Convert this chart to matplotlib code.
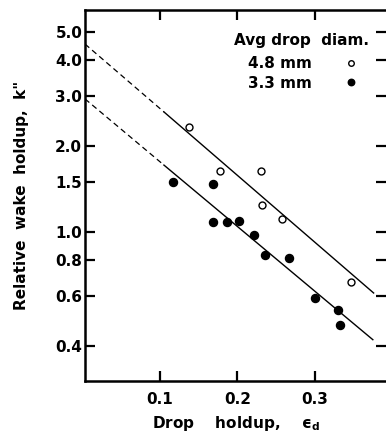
import matplotlib
matplotlib.use("Agg")
import matplotlib.pyplot as plt
from matplotlib.ticker import FixedLocator, NullLocator

plt.rcParams['font.family'] = ['DejaVu Sans']
plt.rcParams['font.weight'] = 'bold'
plt.rcParams['mathtext.fontset'] = 'dejavusans'

# Data: 4.8 mm drops (open circles)
x48 = [0.138, 0.177, 0.231, 0.232, 0.257, 0.347]
k48 = [2.33, 1.63, 1.63, 1.24, 1.11, 0.668]
# Data: 3.3 mm drops (filled circles)
x33 = [0.117, 0.168, 0.168, 0.186, 0.202, 0.222, 0.235, 0.267, 0.300, 0.330, 0.332]
k33 = [1.50, 1.475, 1.086, 1.086, 1.094, 0.98, 0.835, 0.815, 0.59, 0.533, 0.475]

# Correlation lines (extrapolated dashed part, fitted solid part)
fit48_dash_x = [0.003, 0.105]
fit48_dash_k = [4.54, 2.63]
fit48_x = [0.105, 0.376]
fit48_k = [2.63, 0.613]
fit33_dash_x = [0.003, 0.105]
fit33_dash_k = [2.92, 1.715]
fit33_x = [0.105, 0.375]
fit33_k = [1.715, 0.421]

yticks = [0.4, 0.6, 0.8, 1.0, 1.5, 2.0, 3.0, 4.0, 5.0]
ytick_labels = ['0.4', '0.6', '0.8', '1.0', '1.5', '2.0', '3.0', '4.0', '5.0']
xticks = [0.1, 0.2, 0.3]
xtick_labels = ['0.1', '0.2', '0.3']

FS = 11

fig = plt.figure(figsize=(3.86, 4.34), dpi=100)
ax = fig.add_axes([85/386, 1-381/434, 301/386, 371/434])
ax.set_yscale('log')
ax.set_xlim(0.003, 0.392)
ax.set_ylim(0.302, 5.97)

ax.plot(fit48_dash_x, fit48_dash_k, color='black', lw=0.9, ls=(0, (4.5, 3)))
ax.plot(fit48_x, fit48_k, color='black', lw=1.0)
ax.plot(fit33_dash_x, fit33_dash_k, color='black', lw=0.9, ls=(0, (4.5, 3)))
ax.plot(fit33_x, fit33_k, color='black', lw=1.0)

ax.plot(x48, k48, ls='none', marker='o', ms=5.0, mfc='white', mec='black',
        mew=1.0, label='4.8 mm')
ax.plot(x33, k33, ls='none', marker='o', ms=5.8, mfc='black', mec='black',
        label='3.3 mm')

ax.yaxis.set_major_locator(FixedLocator(yticks))
ax.yaxis.set_minor_locator(NullLocator())
ax.set_yticklabels(ytick_labels)
ax.xaxis.set_major_locator(FixedLocator(xticks))
ax.xaxis.set_minor_locator(NullLocator())
ax.set_xticklabels(xtick_labels)

for s in ['left', 'bottom', 'top']:
    ax.spines[s].set_linewidth(1.8)
ax.spines['right'].set_visible(False)

ax.tick_params(axis='y', which='major', direction='in', length=7, width=1.6,
               labelsize=FS, pad=2, left=True, right=True)
ax.tick_params(axis='x', which='major', direction='in', length=7, width=1.6,
               labelsize=FS, pad=8, bottom=True, top=True)
for lab in ax.get_xticklabels() + ax.get_yticklabels():
    lab.set_fontweight('bold')

ax.set_ylabel('Relative  wake  holdup,  k"', fontsize=FS, fontweight='bold',
              labelpad=19)
ax.set_xlabel('Drop    holdup,    $\\mathbf{\u03f5}_{\\mathbf{d}}$', fontsize=FS,
              fontweight='bold', labelpad=5)

ax.text(0.719, 0.919, 'Avg drop  diam.', transform=ax.transAxes,
        ha='center', va='center', fontsize=FS, fontweight='bold')
leg = ax.legend(frameon=False, markerfirst=False,
                loc='upper center', bbox_to_anchor=(0.724, 0.892),
                fontsize=FS, handlelength=1.0,
                handletextpad=2.06, labelspacing=0.3, borderaxespad=0.0,
                markerscale=0.8)
for t in leg.get_texts():
    t.set_fontweight('bold')

fig.savefig('out.png', dpi=100)
